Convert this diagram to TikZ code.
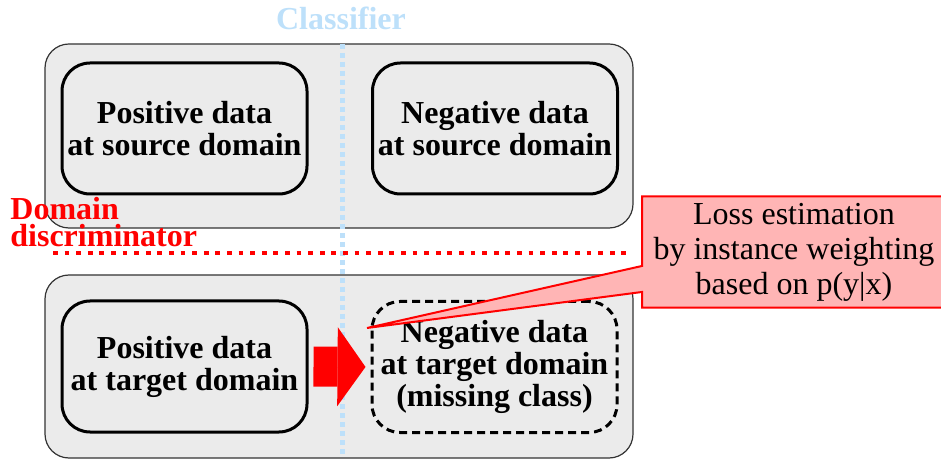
\documentclass[tikz,border=0pt]{standalone}
\usepackage{fontspec}
\setmainfont{Liberation Serif}
\usetikzlibrary{arrows.meta,shapes.callouts}
\definecolor{bggray}{HTML}{EBEBEB}
\definecolor{clsblue}{HTML}{BDE0FA}
\definecolor{lossred}{HTML}{FFB5B5}

\begin{document}
\begin{tikzpicture}[x=0.5pt,y=-0.5pt,
    domainbg/.style={draw=black!80,fill=bggray,line width=.6pt,rounded corners=12pt,minimum width=294pt,minimum height=92pt},
    databox/.style={draw,line width=1.5pt,rounded corners=14pt,minimum width=122.5pt,minimum height=65.5pt,inner sep=0pt,align=center,font=\fontsize{16}{16}\selectfont\bfseries}]
    \useasboundingbox(0,0)rectangle(941,459);
    % domains
    \node[domainbg](srcbg)at(339,136){};
    \node[domainbg,minimum height=91.5pt](tgtbg)at(339,366.5){};
    % data boxes
    \node[databox](psrc)at(184.5,128.5){Positive data\\at source domain};
    \node[databox](nsrc)at(495,128.5){Negative data\\at source domain};
    \node[databox](ptgt)at(184.5,366.5){Positive data\\at target domain};
    \node[databox,dash pattern=on 4pt off 2.5pt](ntgt)at(494.5,367){Negative data\\at target domain\\(missing class)};
    % classifier
    \node[clsblue,font=\fontsize{16}{16}\selectfont\bfseries,anchor=base](cls)at(341,30){Classifier};
    \draw[clsblue,line width=2.5pt,dash pattern=on 2.5pt off 2pt](342,44)--(342,455);
    % domain discriminator
    \node[red,font=\fontsize{16}{13.5}\selectfont\bfseries,align=left,anchor=north west,inner sep=0pt](disc)at(10,197){Domain\\discriminator};
    \draw[red,line width=2.4pt,dash pattern=on 2.4pt off 3.4pt](53,253)--(632,253);
    % missing class
    \draw[red,line width=20pt,-{Triangle[length=14pt,width=39.5pt,line width=0pt]},shorten <=2.5pt,shorten >=2.5pt](ptgt.east)--(ntgt.west);
    % loss estimation
    \coordinate(tip)at(367,328);
    \node[rectangle callout,callout absolute pointer={(tip)},callout pointer width=13pt,draw=red,fill=lossred,line width=1pt,minimum width=152pt,minimum height=54pt,align=center,font=\fontsize{16}{17.5}\selectfont](loss)at(794,252){Loss estimation\\by instance weighting\\based on p(y|x)};
\end{tikzpicture}
\end{document}
